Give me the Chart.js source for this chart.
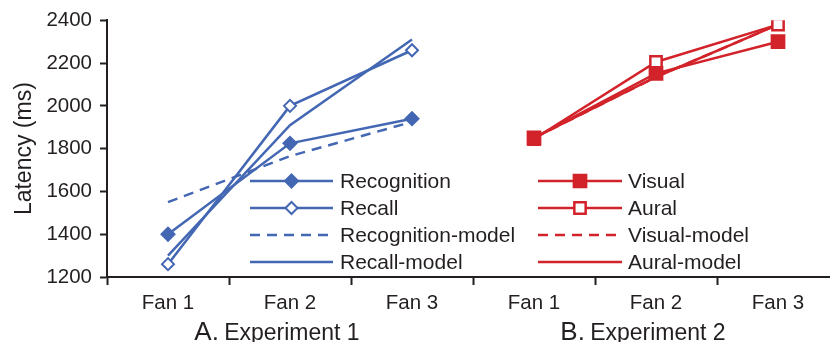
<!DOCTYPE html>
<html lang="en">
<head>
  <meta charset="UTF-8">
  <title>Latency by fan</title>
  <script src="https://cdn.jsdelivr.net/npm/chart.js"></script>
  <style>
    html, body {
      margin: 0;
      padding: 0;
      background: white;
      overflow: hidden;
    }
    canvas {
      display: block;
    }
  </style>
</head>
<body>
<canvas id="latencyChart" width="850" height="342"></canvas>

<script>
  // data
  const categories = ['Fan 1', 'Fan 2', 'Fan 3'];
  const panelTitles = [['A.', 'Experiment 1'], ['B.', 'Experiment 2']];
  const yTicks = [1200, 1400, 1600, 1800, 2000, 2200, 2400];

  // experiment 1
  const recognition = [1400, 1825, 1940];
  const recall = [1260, 2000, 2260];
  const recognitionModel = [1550, 1765, 1925];
  const recallModel = [1300, 1910, 2310];

  // experiment 2
  const visual = [1850, 2152, 2300];
  const aural = [1845, 2205, 2380];
  const visualModel = [1850, 2135, 2380];
  const auralModel = [1850, 2135, 2380];

  const BLUE = '#4467b3';
  const RED = '#d2232a';
  const INK = '#231f20';
  const FONT = "'Liberation Sans', Arial, sans-serif";

  const empty = [null, null, null];
  const left = vals => [...vals, ...empty];
  const right = vals => [...empty, ...vals];

  function series(label, data, color, opts) {
    return Object.assign({
      label: label,
      data: data,
      borderColor: color,
      backgroundColor: color,
      pointBorderColor: color,
      pointBackgroundColor: color,
      borderWidth: 2.5,
      pointRadius: 0,
      pointHoverRadius: 0,
      pointBorderWidth: 2,
      tension: 0,
      spanGaps: false
    }, opts || {});
  }

  // Chart.js paints the first dataset last, so marked series come first
  const datasets = [
    series('Visual', right(visual), RED, { pointStyle: 'rect', pointRadius: 9, col: 1, row: 0 }),
    series('Aural', right(aural), RED, { pointStyle: 'rect', pointRadius: 8, pointBackgroundColor: 'white', pointBorderWidth: 2.5, col: 1, row: 1 }),
    series('Recognition', left(recognition), BLUE, { pointStyle: 'rectRot', pointRadius: 6.5, col: 0, row: 0 }),
    series('Recall', left(recall), BLUE, { pointStyle: 'rectRot', pointRadius: 6, pointBackgroundColor: 'white', col: 0, row: 1 }),
    series('Aural-model', right(auralModel), RED, { col: 1, row: 3 }),
    series('Visual-model', right(visualModel), RED, { borderDash: [10, 7], col: 1, row: 2 }),
    series('Recall-model', left(recallModel), BLUE, { col: 0, row: 3 }),
    series('Recognition-model', left(recognitionModel), BLUE, { borderDash: [10, 7], col: 0, row: 2 })
  ];

  // two-column legend sitting inside the plot
  const legendPlugin = {
    id: 'innerLegend',
    afterDatasetsDraw(chart) {
      const ctx = chart.ctx;
      const cols = [{ x1: 250, x2: 333, tx: 340 }, { x1: 538, x2: 622, tx: 628 }];
      const rowY = [181, 208, 235, 262];
      ctx.save();
      chart.data.datasets.forEach(ds => {
        const c = cols[ds.col];
        const y = rowY[ds.row];
        ctx.strokeStyle = ds.borderColor;
        ctx.lineWidth = ds.borderWidth;
        ctx.setLineDash(ds.borderDash || []);
        ctx.beginPath();
        ctx.moveTo(c.x1, y);
        ctx.lineTo(c.x2, y);
        ctx.stroke();
        ctx.setLineDash([]);
        if (ds.pointRadius > 0) {
          ctx.fillStyle = ds.pointBackgroundColor;
          ctx.strokeStyle = ds.pointBorderColor;
          ctx.lineWidth = ds.pointBorderWidth;
          Chart.helpers.drawPoint(ctx, {
            pointStyle: ds.pointStyle,
            radius: ds.pointRadius,
            borderWidth: ds.pointBorderWidth,
            rotation: 0
          }, (c.x1 + c.x2) / 2, y);
        }
        ctx.fillStyle = INK;
        ctx.font = '21px ' + FONT;
        ctx.textBaseline = 'middle';
        ctx.textAlign = 'left';
        ctx.fillText(ds.label, c.tx, y + 1);
      });
      ctx.restore();
    }
  };

  // panel titles under each group of three fans
  const panelTitlePlugin = {
    id: 'panelTitles',
    afterDraw(chart) {
      const ctx = chart.ctx;
      const xs = chart.scales.x;
      ctx.save();
      ctx.fillStyle = INK;
      ctx.textBaseline = 'alphabetic';
      ctx.textAlign = 'left';
      panelTitles.forEach((t, i) => {
        const mid = xs.getPixelForValue(i * 3 + 1) - 12;
        ctx.font = '26px ' + FONT;
        const w1 = ctx.measureText(t[0] + ' ').width;
        ctx.font = '23px ' + FONT;
        const w2 = ctx.measureText(t[1]).width;
        const x0 = mid - (w1 + w2) / 2;
        ctx.font = '26px ' + FONT;
        ctx.fillText(t[0], x0, 340);
        ctx.font = '23px ' + FONT;
        ctx.fillText(t[1], x0 + w1 - 2, 340);
      });
      ctx.restore();
    }
  };

  new Chart(document.getElementById('latencyChart'), {
    type: 'line',
    data: {
      labels: [...categories, ...categories],
      datasets: datasets
    },
    options: {
      responsive: false,
      animation: false,
      events: [],
      layout: { padding: { left: 0, top: 20, right: 8, bottom: 0 } },
      plugins: {
        legend: { display: false },
        tooltip: { enabled: false }
      },
      scales: {
        x: {
          type: 'category',
          offset: true,
          afterFit(scale) { scale.height = 65; },
          grid: {
            offset: true,
            drawOnChartArea: false,
            drawTicks: true,
            tickLength: 8,
            tickWidth: 2,
            color: INK
          },
          border: { display: true, color: INK, width: 2 },
          ticks: {
            color: INK,
            padding: 6,
            maxRotation: 0,
            font: { family: FONT, size: 20.5 }
          }
        },
        y: {
          min: yTicks[0],
          max: yTicks[yTicks.length - 1],
          afterFit(scale) { scale.width = 107; },
          afterBuildTicks(scale) { scale.ticks = yTicks.map(v => ({ value: v })); },
          grid: {
            drawOnChartArea: false,
            drawTicks: true,
            tickLength: 7,
            tickWidth: 2,
            color: INK
          },
          border: { display: true, color: INK, width: 2 },
          ticks: {
            color: INK,
            padding: 8,
            font: { family: FONT, size: 20.5 },
            callback: v => String(v)
          },
          title: {
            display: true,
            text: 'Latency (ms)',
            color: INK,
            padding: { top: 11, bottom: 0 },
            font: { family: FONT, size: 23 }
          }
        }
      }
    },
    plugins: [legendPlugin, panelTitlePlugin]
  });
</script>
</body>
</html>
